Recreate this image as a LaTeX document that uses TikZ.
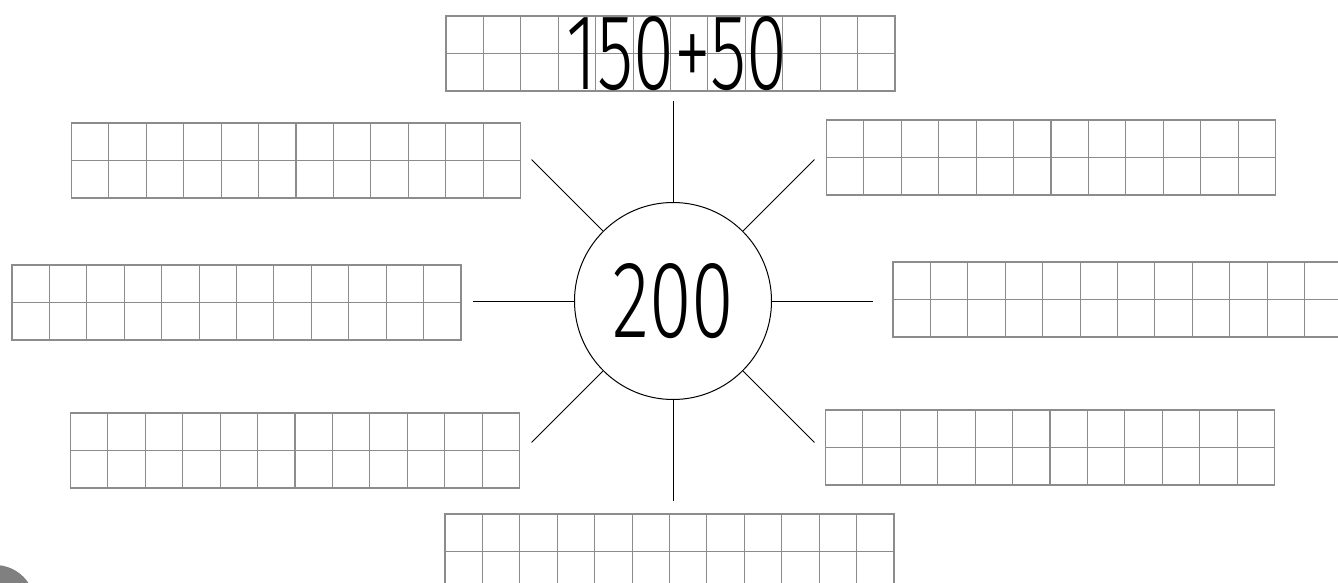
\documentclass[tikz,border=0pt]{standalone}
\usepackage{graphicx}
\usepackage{fontspec}
\newfontfamily\hand{Fira Sans Light}
\usepackage{tikz}
\usetikzlibrary{calc}

\begin{document}
\begin{tikzpicture}[
        x=1pt, y=-1pt,
        gridline/.style={draw=black!45, line width=1.1pt},
        grille/.style={rectangle, draw=black!45, line width=1.1pt, inner sep=0pt, outer sep=0pt,
            minimum width=449pt, minimum height=75pt,
            path picture={
                \foreach \i in {1,...,11}
                    \draw[gridline] ($(path picture bounding box.north west)!\i/12!(path picture bounding box.north east)$)
                        -- ($(path picture bounding box.south west)!\i/12!(path picture bounding box.south east)$);
                \draw[gridline] (path picture bounding box.west) -- (path picture bounding box.east);
            }},
        hub/.style={circle, draw=black, line width=1pt, minimum size=197pt, inner sep=0pt},
        ray/.style={draw=black, line width=1pt},
        sum/.style={inner sep=0pt, outer sep=0pt},
    ]
    \useasboundingbox (0,0) rectangle (1338,583);

    % === GRIDS ===
    \node[grille] (gtop) at (670.5,53.5) {};
    \node[grille] (gul) at (296,160.5) {};
    \node[grille] (gur) at (1051,157.5) {};
    \node[grille] (gml) at (236.5,302.5) {};
    \node[grille] (gmr) at (1117.5,299.5) {};
    \node[grille] (gll) at (295,450.5) {};
    \node[grille] (glr) at (1050,447.5) {};
    \node[grille] (gbot) at (669.5,551.5) {};

    % written sum on the top grid
    \node[sum] (decomp) at (677,53.5) {\resizebox{220pt}{73pt}{\hand 150+50}};

    % === CENTRE ===
    \node[hub] (c) at (673,301) {\resizebox{122pt}{74pt}{\hand 200}};

    % ray ends
    \coordinate (etop) at (673,101);
    \coordinate (ebot) at (673,501);
    \coordinate (eleft) at (473,301);
    \coordinate (eright) at (873,301);
    \coordinate (eul) at (531.6,159.6);
    \coordinate (eur) at (814.4,159.6);
    \coordinate (ell) at (531.6,442.4);
    \coordinate (elr) at (814.4,442.4);

    % === RAYS ===
    \foreach \e in {etop, ebot, eleft, eright, eul, eur, ell, elr}
        \draw[ray] (c) -- (\e);

    % page tab
    \fill[black!50] (-5,605) circle (40);
\end{tikzpicture}
\end{document}
